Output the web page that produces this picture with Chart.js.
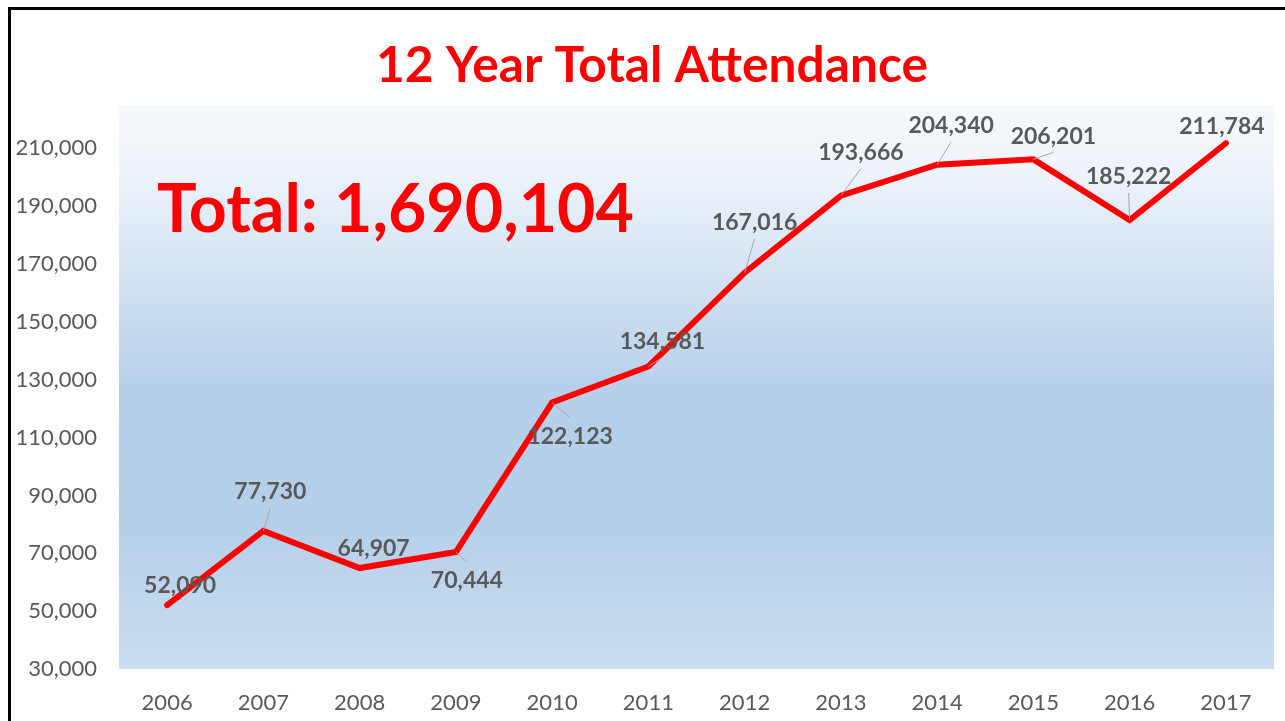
<!DOCTYPE html>
<html>
<head>
<meta charset="utf-8">
<script src="https://cdn.jsdelivr.net/npm/chart.js@4/dist/chart.umd.min.js"></script>
<style>
  html, body { margin: 0; padding: 0; background: #ffffff; overflow: hidden; }
  #frame { position: absolute; left: 8px; top: 7px; width: 1400px; height: 800px;
           border-top: 3px solid #000; border-left: 3px solid #000; }
  #wrap { position: absolute; left: 0; top: 0; width: 1285px; height: 721px; }
</style>
</head>
<body>
<div id="frame"></div>
<div id="wrap"><canvas id="c" width="1285" height="721"></canvas></div>
<script>
// ---- data ----
const years = ['2006','2007','2008','2009','2010','2011','2012','2013','2014','2015','2016','2017'];
const attendance = [52090, 77730, 64907, 70444, 122123, 134581, 167016, 193666, 204340, 206201, 185222, 211784];
const yTickValues = [30000, 50000, 70000, 90000, 110000, 130000, 150000, 170000, 190000, 210000];
const chartTitle = '12 Year Total Attendance';
const totalText = 'Total: ' + attendance.reduce((a, b) => a + b, 0).toLocaleString('en-US');

// ---- label placement (style) ----
const labelDx = [13, 7, 14, 11, 18, 14, 10, 20, 14, 20, -1, -4];
const labelDy = [-21, -40, -20, 28, 33, -26, -51, -44, -40, -24, -44, -18];
const showLeader = [false, true, false, true, true, true, true, true, true, true, true, false];

const GRAY = '#595959';
const FONT = 'Lato, "Open Sans", sans-serif';

function fitSize(ctx, text, weight, target, base) {
  ctx.font = weight + ' ' + base + 'px ' + FONT;
  const w = ctx.measureText(text).width;
  return base * target / w;
}

const bgPlugin = {
  id: 'bg',
  beforeDraw(chart) {
    const { ctx, chartArea: a } = chart;
    const g = ctx.createLinearGradient(0, a.top, 0, a.bottom);
    g.addColorStop(0.0, '#f6f9fc');
    g.addColorStop(0.10, '#f0f5fb');
    g.addColorStop(0.30, '#d4e3f3');
    g.addColorStop(0.50, '#b6d0ea');
    g.addColorStop(0.74, '#b4cfe9');
    g.addColorStop(1.0, '#cbdef1');
    ctx.save();
    ctx.fillStyle = g;
    ctx.fillRect(a.left, a.top, a.right - a.left, a.bottom - a.top);
    ctx.restore();
  },
  beforeDatasetsDraw(chart) {
    const { ctx } = chart;
    ctx.save();
    ctx.fillStyle = '#ff0000';
    ctx.textBaseline = 'alphabetic';
    // title
    let s = fitSize(ctx, chartTitle, 'bold', 552, 48);
    ctx.font = 'bold ' + s + 'px ' + FONT;
    ctx.textAlign = 'center';
    ctx.fillText(chartTitle, 652, 82);
    // total
    s = fitSize(ctx, totalText, 'bold', 477, 60);
    ctx.font = 'bold ' + s + 'px ' + FONT;
    ctx.textAlign = 'left';
    ctx.fillText(totalText, 157, 232);
    ctx.restore();
  },
  afterDatasetsDraw(chart) {
    const { ctx } = chart;
    const meta = chart.getDatasetMeta(0);
    ctx.save();
    ctx.font = 'bold 23px ' + FONT;
    ctx.textAlign = 'center';
    ctx.textBaseline = 'middle';
    meta.data.forEach((pt, i) => {
      const lx = pt.x + labelDx[i];
      const ly = pt.y + labelDy[i];
      if (showLeader[i]) {
        const above = labelDy[i] < 0;
        const sy = above ? ly + 8 + 9 : ly - 8 - 10;
        ctx.strokeStyle = '#a6a6a6';
        ctx.lineWidth = 1;
        ctx.beginPath();
        ctx.moveTo(lx, sy);
        ctx.lineTo(pt.x, pt.y);
        ctx.stroke();
      }
      ctx.fillStyle = GRAY;
      ctx.fillText(attendance[i].toLocaleString('en-US'), lx, ly + 1);
    });
    ctx.restore();
  }
};

new Chart(document.getElementById('c'), {
  type: 'line',
  data: {
    labels: years,
    datasets: [{
      data: attendance,
      borderColor: '#ff0000',
      borderWidth: 6,
      borderCapStyle: 'round',
      borderJoinStyle: 'miter',
      pointRadius: 0,
      pointHoverRadius: 0,
      tension: 0,
      fill: false
    }]
  },
  options: {
    responsive: false,
    animation: false,
    events: [],
    layout: { padding: { top: 105, right: 11, left: 0, bottom: 0 } },
    plugins: { legend: { display: false }, tooltip: { enabled: false }, title: { display: false } },
    scales: {
      x: {
        type: 'category',
        offset: true,
        grid: { display: false, drawTicks: false },
        border: { display: false },
        ticks: { color: GRAY, font: { family: FONT, size: 22 }, padding: 21, maxRotation: 0, autoSkip: false },
        afterFit(scale) { scale.height = 52; }
      },
      y: {
        min: 30000,
        max: 225000,
        grid: { display: false, drawTicks: false },
        border: { display: false },
        afterBuildTicks(scale) { scale.ticks = yTickValues.map(v => ({ value: v })); },
        ticks: {
          color: GRAY,
          font: { family: FONT, size: 22 },
          padding: 22,
          callback: v => Number(v).toLocaleString('en-US')
        },
        afterFit(scale) { scale.width = 119; }
      }
    }
  },
  plugins: [bgPlugin]
});
</script>
</body>
</html>
